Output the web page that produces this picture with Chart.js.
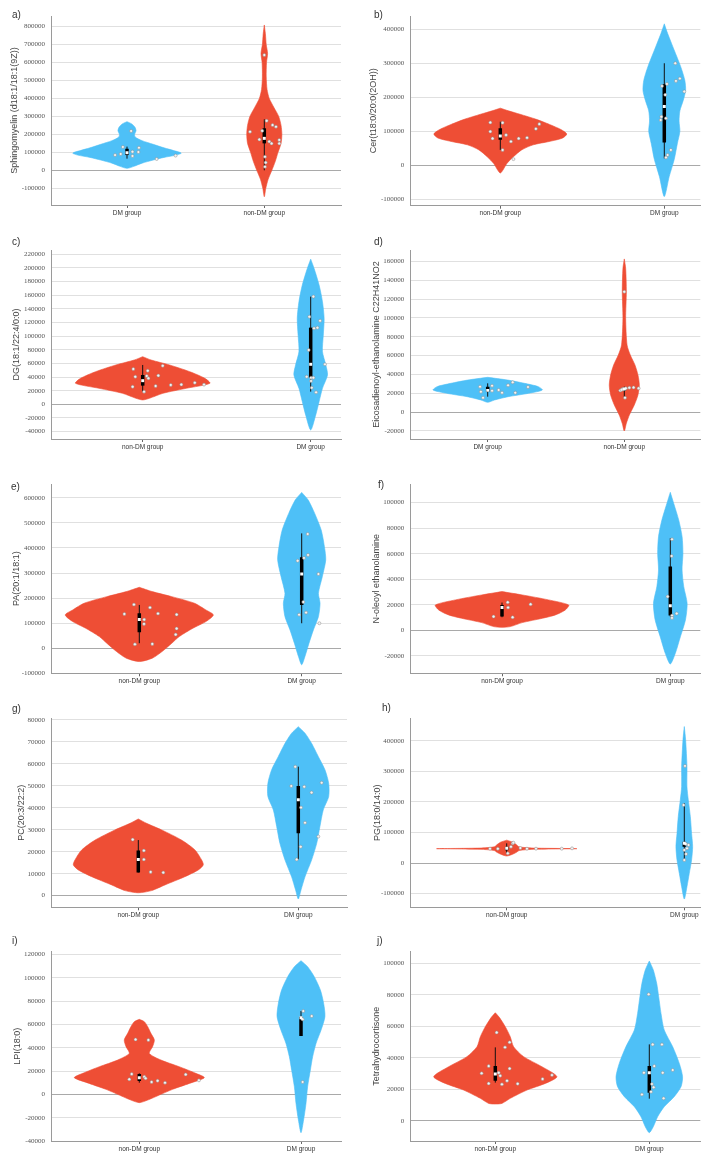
<!DOCTYPE html>
<html>
<head>
<meta charset="utf-8">
<script src="https://cdn.jsdelivr.net/npm/chart.js@4.4.1/dist/chart.umd.min.js"></script>
<style>
  body { margin: 0; background: #fff; }
  #page { position: relative; width: 712px; height: 1161px; overflow: hidden; background: #fff; }
  .panel { position: absolute; width: 356px; }
  .letter { position: absolute; font: 10px "Liberation Sans", Arial, sans-serif; color: #333; }
</style>
</head>
<body>
<div id="page"></div>
<script>
// ---- data ----
// violin shapes are [value, half width]; half width in units of the gap between the two groups
// boxes are [whisker low, q1, median, q3, whisker high]

const letters = ['a)', 'b)', 'c)', 'd)', 'e)', 'f)', 'g)', 'h)', 'i)', 'j)'];
const yTitles = [
  'Sphingomyelin (d18:1/18:1(9Z))', 'Cer(t18:0/20:0(2OH))', 'DG(18:1/22:4/0:0)',
  'Eicosadienoyl-ethanolamine C22H41NO2', 'PA(20:1/18:1)', 'N-oleoyl ethanolamine',
  'PC(20:3/22:2)', 'PG(18:0/14:0)', 'LPI(18:0)', 'Tetrahydrocortisone'
];
const yRanges = [
  [-193000, 859000], [-119000, 439000], [-50900, 226400], [-28700, 172300], [-100000, 655000],
  [-33700, 114600], [-5300, 80700], [-145000, 474000], [-40000, 122300], [-12900, 107400]
];

const aTicks = [-100000, 0, 100000, 200000, 300000, 400000, 500000, 600000, 700000, 800000];
const bTicks = [-100000, 0, 100000, 200000, 300000, 400000];
const cTicks = [-40000, -20000, 0, 20000, 40000, 60000, 80000, 100000, 120000, 140000, 160000, 180000, 200000, 220000];
const dTicks = [-20000, 0, 20000, 40000, 60000, 80000, 100000, 120000, 140000, 160000];
const eTicks = [-100000, 0, 100000, 200000, 300000, 400000, 500000, 600000];
const fTicks = [-20000, 0, 20000, 40000, 60000, 80000, 100000];
const gTicks = [0, 10000, 20000, 30000, 40000, 50000, 60000, 70000, 80000];
const hTicks = [-100000, 0, 100000, 200000, 300000, 400000];
const iTicks = [-40000, -20000, 0, 20000, 40000, 60000, 80000, 100000, 120000];
const jTicks = [0, 20000, 40000, 60000, 80000, 100000];

// a) Sphingomyelin
const aDmShape = [[271000,0],[258000,0.035],[240000,0.058],[220000,0.066],[200000,0.055],[185000,0.06],[165000,0.11],[145000,0.19],[125000,0.27],[110000,0.34],[96000,0.395],[85000,0.36],[72000,0.27],[57000,0.19],[40000,0.11],[22000,0.05],[11000,0]];
const aDmBox = [65000, 85000, 98000, 120000, 132000];
const aDmValues = [219000, 130000, 85000, 91000, 104000, 80000, 126000, 102000, 63000, 82000];
const aDmJitter = [0.03, -0.03, -0.087, -0.046, 0.04, 0.04, 0.087, 0.083, 0.216, 0.354];
const aNonShape = [[809000,0],[760000,0.008],[700000,0.014],[650000,0.024],[600000,0.016],[520000,0.014],[450000,0.02],[400000,0.036],[350000,0.07],[300000,0.105],[250000,0.122],[200000,0.128],[150000,0.122],[100000,0.1],[50000,0.08],[0,0.055],[-50000,0.028],[-100000,0.011],[-147000,0]];
const aNonBox = [0, 150000, 178000, 234000, 284000];
const aNonValues = [642000, 276000, 252000, 243000, 215000, 220000, 172000, 160000, 150000, 169000, 150000, 76000, 43000, 20000];
const aNonJitter = [0, 0.017, 0.06, 0.085, -0.104, -0.015, -0.036, 0.036, 0.053, 0.109, 0.109, 0.005, 0.01, 0.005];

// b) Cer
const bNonShape = [[168000,0],[160000,0.05],[150000,0.12],[135000,0.22],[120000,0.3],[105000,0.37],[92000,0.405],[80000,0.38],[70000,0.3],[60000,0.2],[45000,0.13],[25000,0.08],[5000,0.04],[-15000,0.015],[-23000,0]];
const bNonBox = [45000, 75000, 86000, 109000, 128000];
const bNonValues = [126000, 99000, 79000, 125000, 89000, 70000, 79000, 81000, 107000, 121000, 45000, 18000];
const bNonJitter = [-0.061, -0.061, -0.047, 0.014, 0.035, 0.065, 0.112, 0.163, 0.217, 0.238, 0.014, 0.08];
const bDmShape = [[416000,0],[388000,0.02],[339000,0.06],[290000,0.1],[250000,0.125],[220000,0.13],[190000,0.115],[160000,0.095],[130000,0.09],[100000,0.095],[65000,0.08],[16000,0.06],[-33000,0.03],[-92000,0]];
const bDmBox = [20000, 67000, 173000, 238000, 300000];
const bDmValues = [233000, 239000, 207000, 248000, 255000, 300000, 217000, 143000, 133000, 138000, 45000, 30000, 23000];
const bDmJitter = [-0.014, 0.016, 0.006, 0.071, 0.095, 0.067, 0.122, -0.018, -0.022, 0.01, 0.04, 0.02, 0.01];

// c) DG
const cNonShape = [[69900,0],[65000,0.05],[57700,0.16],[47900,0.28],[38100,0.37],[30800,0.4],[23500,0.26],[16100,0.12],[8800,0.04],[6400,0]];
const cNonBox = [18600, 27400, 34700, 43000, 57700];
const cNonValues = [51800, 40600, 25900, 18600, 49400, 41600, 38100, 42100, 56700, 26900, 28400, 28900, 31800, 28900];
const cNonJitter = [-0.056, -0.044, -0.06, 0.008, 0.03, 0.024, 0.034, 0.093, 0.119, 0.077, 0.167, 0.23, 0.31, 0.365];
const cDmShape = [[213000,0],[199500,0.02],[175000,0.05],[150600,0.07],[126200,0.08],[101700,0.075],[77300,0.07],[57700,0.09],[43000,0.1],[23500,0.07],[3900,0.05],[-15600,0.03],[-37700,0]];
const cDmBox = [18600, 39000, 58700, 112500, 158000];
const cDmValues = [128600, 158000, 111500, 112500, 122700, 79700, 58700, 40600, 39100, 39100, 34200, 24400, 17600];
const cDmJitter = [-0.008, 0.016, 0.02, 0.04, 0.056, -0.012, 0.085, -0.024, 0.002, 0.016, 0.002, 0.006, 0.032];

// d) Eicosadienoyl-ethanolamine
const dDmShape = [[36900,0],[34000,0.146],[30500,0.27],[27000,0.37],[23400,0.4],[19900,0.3],[16300,0.15],[12800,0.05],[10300,0]];
const dDmBox = [16300, 21600, 23000, 27000, 30500];
const dDmValues = [27000, 21600, 15200, 28000, 22700, 23400, 20600, 28400, 31600, 20600, 26600];
const dDmJitter = [-0.056, -0.05, -0.034, 0.032, 0.032, 0.08, 0.105, 0.149, 0.183, 0.202, 0.295];
const dNonShape = [[162800,0],[152800,0.01],[128000,0.015],[99600,0.01],[71300,0.02],[60600,0.044],[50000,0.078],[39400,0.1],[28700,0.11],[18100,0.1],[7400,0.073],[-3200,0.037],[-12100,0.015],[-20200,0]];
const dNonBox = [15000, 22500, 24500, 26000, 27000];
const dNonValues = [128000, 23000, 24500, 25200, 25900, 26200, 25200, 15200, 23700];
const dNonJitter = [0, -0.03, -0.012, 0.012, 0.037, 0.068, 0.105, 0.005, -0.02];

// e) PA
const eNonShape = [[243000,0],[225800,0.08],[205800,0.2],[179300,0.34],[152700,0.41],[132800,0.456],[106200,0.41],[79700,0.33],[46500,0.246],[19900,0.2],[-13300,0.14],[-39800,0.08],[-53100,0]];
const eNonBox = [19900, 63700, 114200, 139400, 172600];
const eNonValues = [136800, 174000, 15900, 114200, 97000, 162000, 138100, 17300, 134100, 78400, 54400];
const eNonJitter = [-0.092, -0.033, -0.027, 0.03, 0.029, 0.066, 0.115, 0.08, 0.23, 0.23, 0.224];
const eDmShape = [[621500,0],[591000,0.04],[537800,0.08],[471500,0.12],[405000,0.14],[352000,0.148],[285500,0.127],[219000,0.103],[179000,0.113],[126000,0.103],[73000,0.072],[20000,0.045],[-33000,0.02],[-66000,0]];
const eDmBox = [99600, 172600, 296000, 362500, 458000];
const eDmValues = [455500, 372000, 360000, 349000, 296000, 184600, 142000, 134000, 99600];
const eDmJitter = [0.037, 0.039, 0.014, -0.025, 0.103, 0.01, 0.027, -0.016, 0.109];

// f) N-oleoyl ethanolamine
const fNonShape = [[30300,0],[27700,0.12],[23800,0.277],[19800,0.396],[15900,0.376],[12000,0.317],[9400,0.24],[6000,0.12],[2900,0.05],[2300,0]];
const fNonBox = [10200, 10700, 17800, 19800, 21700];
const fNonValues = [21900, 17800, 10700, 10200, 20400];
const fNonJitter = [0.034, 0.036, -0.05, 0.063, 0.17];
const fDmShape = [[108100,0],[99500,0.02],[86400,0.05],[73400,0.07],[60300,0.075],[47300,0.07],[34200,0.08],[21100,0.1],[8100,0.09],[-5000,0.06],[-18000,0.03],[-26400,0]];
const fDmBox = [10700, 11500, 19300, 49900, 72100];
const fDmValues = [71300, 58200, 26400, 13100, 11500, 9700];
const fDmJitter = [0.01, 0.008, -0.016, 0.038, 0.01, 0.01];

// g) PC
const gNonShape = [[34900,0],[32900,0.052],[29900,0.146],[25300,0.27],[20800,0.354],[16200,0.396],[14000,0.406],[11700,0.375],[8600,0.29],[4900,0.167],[2300,0.083],[1300,0]];
const gNonBox = [10500, 10500, 16500, 20500, 25300];
const gNonValues = [25500, 20500, 16500, 10800, 10500];
const gNonJitter = [-0.035, 0.035, 0.035, 0.077, 0.156];
const gDmShape = [[76900,0],[73900,0.042],[69300,0.083],[63300,0.125],[57200,0.167],[51100,0.19],[45100,0.19],[39000,0.156],[31400,0.135],[23800,0.115],[16200,0.083],[8600,0.042],[2600,0.017],[-1500,0]];
const gDmBox = [16500, 28400, 43600, 49900, 58700];
const gDmValues = [58700, 49900, 49600, 51400, 46900, 40100, 33200, 26900, 22300, 16500];
const gDmJitter = [-0.019, -0.044, 0.037, 0.146, 0.083, 0.017, 0.042, 0.125, 0.015, -0.01];

// h) PG
const hNonShape = [[75000,0],[68000,0.035],[60000,0.055],[53000,0.07],[49000,0.15],[47000,0.395],[45000,0.15],[41000,0.07],[35000,0.055],[28000,0.03],[23000,0]];
const hNonBox = [31700, 42000, 48100, 53600, 64500];
const hNonValues = [47000, 47000, 53600, 64500, 31700, 49200, 47000, 47000, 47000, 48100, 66700];
const hNonJitter = [-0.094, -0.05, 0.024, 0.034, 0.006, 0.077, 0.114, 0.165, 0.31, 0.368, 0.0375];
const hDmShape = [[447000,0],[403000,0.0075],[316000,0.015],[250000,0.015],[206600,0.0225],[152000,0.034],[97300,0.041],[53600,0.047],[9800,0.041],[-33900,0.028],[-77600,0.015],[-118000,0]];
const hDmBox = [9800, 53600, 64500, 70000, 195600];
const hDmValues = [318000, 190000, 62300, 48100, 42600, 29500, 9800, 59000];
const hDmJitter = [0.004, -0.004, 0.009, 0.015, 0, 0.01, 0, 0.024];

// i) LPI
const iNonShape = [[64300,0],[62300,0.031],[58000,0.052],[52300,0.072],[46600,0.093],[40900,0.082],[35100,0.062],[29400,0.134],[23700,0.247],[18000,0.35],[14300,0.402],[9400,0.31],[4300,0.206],[-600,0.124],[-4900,0.052],[-7100,0]];
const iNonBox = [10000, 11500, 14300, 17500, 18000];
const iNonValues = [47100, 46600, 17400, 12900, 15100, 13700, 10600, 11700, 10000, 17100, 12000];
const iNonJitter = [-0.023, 0.056, -0.047, -0.062, 0.031, 0.039, 0.076, 0.113, 0.159, 0.287, 0.369];
const iDmShape = [[114600,0],[109400,0.041],[100900,0.082],[89400,0.12],[78000,0.14],[66600,0.148],[55100,0.124],[43700,0.093],[32300,0.072],[20900,0.058],[6600,0.041],[-7700,0.031],[-22000,0.016],[-32900,0]];
const iDmBox = [50000, 50000, 65700, 66500, 71400];
const iDmValues = [71400, 64300, 67100, 10600];
const iDmJitter = [0.014, 0.01, 0.066, 0.01];

// j) Tetrahydrocortisone
const jNonShape = [[68600,0],[65700,0.026],[59700,0.065],[53400,0.097],[47000,0.119],[40700,0.184],[34300,0.303],[28000,0.4],[23700,0.325],[19500,0.206],[14200,0.097],[11000,0.043],[10600,0]];
const jNonBox = [24200, 25400, 29700, 34700, 46600];
const jNonValues = [56100, 49800, 46600, 34700, 30100, 30500, 28600, 33100, 23700, 23100, 25400, 23500, 26500, 29000];
const jNonJitter = [0.009, 0.093, 0.063, -0.043, -0.089, 0.022, 0.032, 0.093, -0.043, 0.043, 0.076, 0.145, 0.307, 0.368];
const jDmShape = [[101500,0],[95800,0.026],[87300,0.048],[78800,0.061],[68200,0.076],[57600,0.097],[47000,0.152],[36400,0.195],[28000,0.216],[21600,0.206],[15300,0.162],[8900,0.097],[2500,0.054],[-3800,0.026],[-7600,0]];
const jDmBox = [14000, 17800, 30500, 34700, 48500];
const jDmValues = [80300, 48500, 48500, 34700, 30500, 30500, 32200, 23300, 21200, 18400, 16700, 14200];
const jDmJitter = [-0.004, 0.022, 0.082, 0.032, -0.035, 0.087, 0.152, 0.017, 0.028, 0.011, -0.048, 0.093];

// ---- layout: [left, top, height, plotLeft, plotTop, plotRight, plotBottom, group0 px, group1 px, title x] ----
const layout = [
  [0, 0, 235, 51, 16, 341, 205, 127, 264.3, 15],
  [356, 0, 235, 54.3, 16, 344.3, 205.7, 144.3, 308.3, 18],
  [0, 235, 235, 51, 15, 341, 204, 142.7, 310.7, 16.7],
  [356, 235, 235, 54.3, 15, 344.3, 204, 131.7, 268.3, 20.7],
  [0, 470, 230, 51, 14, 341, 203.3, 139.3, 301.7, 16.7],
  [356, 470, 230, 54.3, 14, 344.3, 203.3, 146, 314.3, 20.7],
  [0, 700, 230, 51, 18.3, 347, 207.3, 138.3, 298.3, 21.7],
  [356, 700, 230, 54.3, 18.3, 344.3, 207.3, 150.7, 328.3, 21.7],
  [0, 930, 231, 51, 21.7, 341, 211, 139.3, 301, 17.3],
  [356, 930, 231, 54.3, 21.7, 344.3, 211, 139.3, 293.3, 20.7]
];
const letterPos = [[12, 9], [374, 9], [12, 236], [374, 236], [11, 481], [378, 479], [12, 703], [382, 702], [12, 935], [377, 935]];

const RED = '#ee4e35';
const BLUE = '#4ec0f7';

function grp(name, shape, box, values, jitter) {
  return {name, shape, box, values, jitter, color: name === 'DM group' ? BLUE : RED};
}
const DM = 'DM group', NON = 'non-DM group';
const panels = [
  {ticks: aTicks, groups: [grp(DM, aDmShape, aDmBox, aDmValues, aDmJitter), grp(NON, aNonShape, aNonBox, aNonValues, aNonJitter)]},
  {ticks: bTicks, groups: [grp(NON, bNonShape, bNonBox, bNonValues, bNonJitter), grp(DM, bDmShape, bDmBox, bDmValues, bDmJitter)]},
  {ticks: cTicks, groups: [grp(NON, cNonShape, cNonBox, cNonValues, cNonJitter), grp(DM, cDmShape, cDmBox, cDmValues, cDmJitter)]},
  {ticks: dTicks, groups: [grp(DM, dDmShape, dDmBox, dDmValues, dDmJitter), grp(NON, dNonShape, dNonBox, dNonValues, dNonJitter)]},
  {ticks: eTicks, groups: [grp(NON, eNonShape, eNonBox, eNonValues, eNonJitter), grp(DM, eDmShape, eDmBox, eDmValues, eDmJitter)]},
  {ticks: fTicks, groups: [grp(NON, fNonShape, fNonBox, fNonValues, fNonJitter), grp(DM, fDmShape, fDmBox, fDmValues, fDmJitter)]},
  {ticks: gTicks, groups: [grp(NON, gNonShape, gNonBox, gNonValues, gNonJitter), grp(DM, gDmShape, gDmBox, gDmValues, gDmJitter)]},
  {ticks: hTicks, groups: [grp(NON, hNonShape, hNonBox, hNonValues, hNonJitter), grp(DM, hDmShape, hDmBox, hDmValues, hDmJitter)]},
  {ticks: iTicks, groups: [grp(NON, iNonShape, iNonBox, iNonValues, iNonJitter), grp(DM, iDmShape, iDmBox, iDmValues, iDmJitter)]},
  {ticks: jTicks, groups: [grp(NON, jNonShape, jNonBox, jNonValues, jNonJitter), grp(DM, jDmShape, jDmBox, jDmValues, jDmJitter)]}
];

// outline of a violin: down the right side, back up the left side
function outline(c, shape) {
  const right = shape.map(([v, w]) => ({x: c + w, y: v}));
  const left = shape.slice().reverse().map(([v, w]) => ({x: c - w, y: v}));
  return right.concat(left.slice(1));
}

function groupDatasets(g, c) {
  const [lo, q1, med, q3, hi] = g.box;
  return [
    {data: outline(c, g.shape), fill: 'shape', backgroundColor: g.color, borderColor: g.color,
     borderWidth: 0.6, pointRadius: 0, tension: 0.25, order: 5},
    {data: [{x: c, y: lo}, {x: c, y: hi}], borderColor: '#111', borderWidth: 1, pointRadius: 0, order: 4},
    {data: [{x: c, y: q1}, {x: c, y: q3}], borderColor: '#000', borderWidth: 3.5, borderCapStyle: 'butt', pointRadius: 0, order: 3},
    {data: g.values.map((v, k) => ({x: c + g.jitter[k], y: v})), showLine: false, pointRadius: 1.5,
     pointBackgroundColor: '#f3f3f3', pointBorderColor: '#8a8a8a', pointBorderWidth: 0.5, order: 2},
    {data: [{x: c, y: med}], showLine: false, pointStyle: 'rect', pointRadius: 2.1,
     pointBackgroundColor: '#ffffff', pointBorderWidth: 0, order: 1}
  ];
}

const page = document.getElementById('page');

panels.forEach((p, i) => {
  const [left, top, h, pl, pt, pr, pb, c0px, c1px, titleX] = layout[i];
  const gap = c1px - c0px;
  const xMin = -(c0px - pl) / gap;
  const xMax = 1 + (pr - c1px) / gap;

  const div = document.createElement('div');
  div.className = 'panel';
  div.style.left = left + 'px';
  div.style.top = top + 'px';
  div.style.height = h + 'px';
  const canvas = document.createElement('canvas');
  canvas.width = 356;
  canvas.height = h;
  div.appendChild(canvas);
  page.appendChild(div);

  const lab = document.createElement('div');
  lab.className = 'letter';
  lab.style.left = letterPos[i][0] + 'px';
  lab.style.top = letterPos[i][1] + 'px';
  lab.textContent = letters[i];
  page.appendChild(lab);

  const names = p.groups.map(g => g.name);
  const datasets = [];
  p.groups.forEach((g, k) => datasets.push(...groupDatasets(g, k)));

  new Chart(canvas, {
    type: 'line',
    data: {datasets},
    options: {
      indexAxis: 'y',
      responsive: false,
      animation: false,
      events: [],
      layout: {padding: {top: pt, right: 356 - pr, left: 0, bottom: 0}},
      plugins: {legend: {display: false}, tooltip: {enabled: false}},
      scales: {
        x: {
          type: 'linear',
          min: xMin,
          max: xMax,
          afterBuildTicks: s => { s.ticks = [{value: 0}, {value: 1}]; },
          afterFit: s => { s.height = h - pb; },
          grid: {drawOnChartArea: false, drawTicks: true, tickLength: 3, color: '#666'},
          border: {display: true, color: '#9a9a9a', width: 1},
          ticks: {
            autoSkip: false, maxRotation: 0, padding: 1,
            color: '#333', font: {family: 'Liberation Sans', size: 6.5},
            callback: v => names[v]
          }
        },
        y: {
          type: 'linear',
          min: yRanges[i][0],
          max: yRanges[i][1],
          afterBuildTicks: s => { s.ticks = p.ticks.map(v => ({value: v})); },
          afterFit: s => { s.width = pl; },
          grid: {
            drawTicks: false,
            color: c => (c.tick && c.tick.value === 0) ? '#a9a9a9' : '#e0e0e0'
          },
          border: {display: true, color: '#9a9a9a', width: 1},
          ticks: {
            autoSkip: false, padding: 6, color: '#555',
            font: {family: 'Liberation Serif', size: 7},
            callback: v => String(v)
          },
          title: {
            display: true, text: yTitles[i], color: '#444',
            font: {family: 'Liberation Sans', size: 9},
            padding: {top: titleX - 5.4, bottom: 0}
          }
        }
      }
    }
  });
});
</script>
</body>
</html>
